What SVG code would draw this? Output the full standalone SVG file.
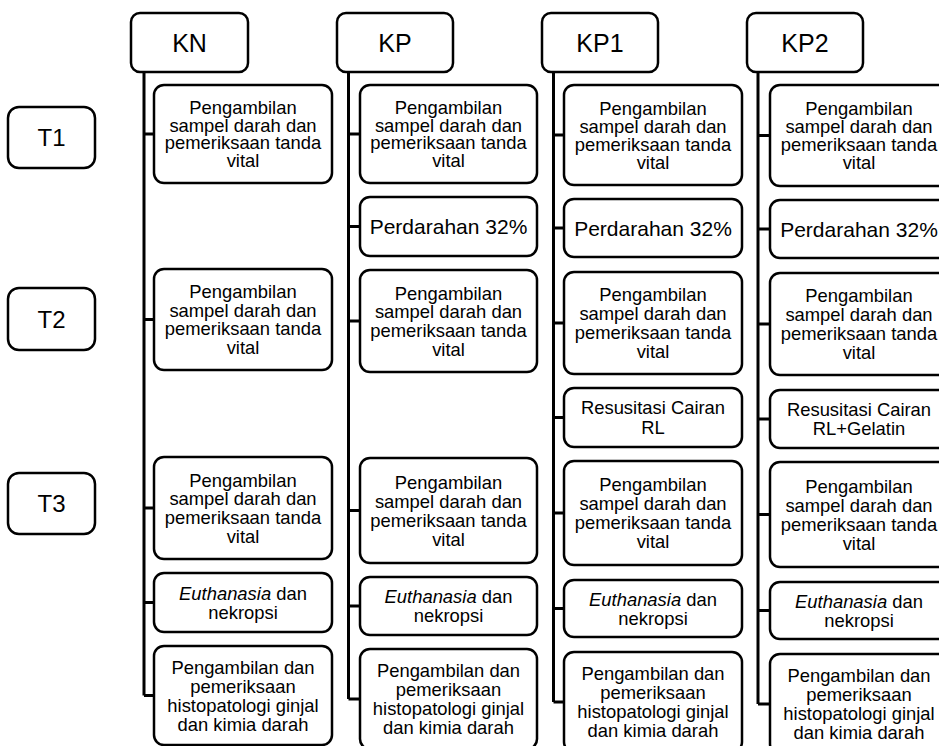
<svg xmlns="http://www.w3.org/2000/svg" width="939" height="746" viewBox="0 0 939 746">
<style>
.bx{fill:#fff;stroke:#000;stroke-width:2.5}
.hd{font-family:"Liberation Sans",Arial,sans-serif;font-size:25px;text-anchor:middle;fill:#000}
.tl{font-family:"Liberation Sans",Arial,sans-serif;font-size:24px;text-anchor:middle;fill:#000}
.tx{font-family:"Liberation Sans",Arial,sans-serif;font-size:18.4px;text-anchor:middle;fill:#000}
.pd{font-family:"Liberation Sans",Arial,sans-serif;font-size:21px;text-anchor:middle;fill:#000}
.it{font-style:italic}
.cn{fill:none;stroke:#000;stroke-width:3}
</style>
<rect width="939" height="746" fill="#fff"/>
<g id="connectors">
<path class="cn" d="M144,72V695.5M144,134H154M144,319.5H154M144,508H154M144,602.5H154M144,695.5H154"/>
<path class="cn" d="M348.5,72V699M348.5,134H360M348.5,226.5H360M348.5,321H360M348.5,510.5H360M348.5,606H360M348.5,699H360"/>
<path class="cn" d="M553.5,72V702M553.5,135H564M553.5,228H564M553.5,323H564M553.5,417.5H564M553.5,513H564M553.5,608.5H564M553.5,702H564"/>
<path class="cn" d="M758,72V704M758,135.5H770M758,229H770M758,324H770M758,419H770M758,514.5H770M758,610.5H770M758,704H770"/>
</g>
<g id="T1"><rect class="bx" x="8" y="107" width="87" height="61" rx="11"/><text class="tl" x="51.5" y="146">T1</text></g>
<g id="T2"><rect class="bx" x="8" y="288" width="87" height="62" rx="11"/><text class="tl" x="51.5" y="327.5">T2</text></g>
<g id="T3"><rect class="bx" x="8" y="473" width="87" height="61" rx="11"/><text class="tl" x="51.5" y="512">T3</text></g>

<g id="KN"><rect class="bx" x="131" y="13" width="117" height="59" rx="9"/><text class="hd" x="189.5" y="51.5">KN</text></g>
<g id="KN-1"><rect class="bx" x="154" y="85" width="178" height="98" rx="10"/><text class="tx"><tspan x="243" y="114">Pengambilan</tspan><tspan x="243" dy="17.7">sampel darah dan</tspan><tspan x="243" dy="17.7">pemeriksaan tanda</tspan><tspan x="243" dy="17.7">vital</tspan></text></g>
<g id="KN-2"><rect class="bx" x="154" y="269" width="178" height="101" rx="10"/><text class="tx"><tspan x="243" y="298.4">Pengambilan</tspan><tspan x="243" dy="18.5">sampel darah dan</tspan><tspan x="243" dy="18.5">pemeriksaan tanda</tspan><tspan x="243" dy="18.5">vital</tspan></text></g>
<g id="KN-3"><rect class="bx" x="154" y="457" width="178" height="102" rx="10"/><text class="tx"><tspan x="243" y="486.6">Pengambilan</tspan><tspan x="243" dy="18.7">sampel darah dan</tspan><tspan x="243" dy="18.7">pemeriksaan tanda</tspan><tspan x="243" dy="18.7">vital</tspan></text></g>
<g id="KN-4"><rect class="bx" x="154" y="573" width="178" height="59" rx="10"/><text class="tx"><tspan x="243" y="599.6"><tspan class="it">Euthanasia</tspan> dan</tspan><tspan x="243" dy="19">nekropsi</tspan></text></g>
<g id="KN-5"><rect class="bx" x="154" y="646" width="178" height="99" rx="10"/><text class="tx"><tspan x="243" y="673.6">Pengambilan dan</tspan><tspan x="243" dy="19">pemeriksaan</tspan><tspan x="243" dy="19">histopatologi ginjal</tspan><tspan x="243" dy="19">dan kimia darah</tspan></text></g>

<g id="KP"><rect class="bx" x="337" y="13" width="116" height="59" rx="9"/><text class="hd" x="395" y="51.5">KP</text></g>
<g id="KP-1"><rect class="bx" x="360" y="85" width="177" height="98" rx="10"/><text class="tx"><tspan x="448.5" y="114">Pengambilan</tspan><tspan x="448.5" dy="17.7">sampel darah dan</tspan><tspan x="448.5" dy="17.7">pemeriksaan tanda</tspan><tspan x="448.5" dy="17.7">vital</tspan></text></g>
<g id="KP-2"><rect class="bx" x="360" y="197" width="177" height="59" rx="10"/><text class="pd" x="448.5" y="234">Perdarahan 32%</text></g>
<g id="KP-3"><rect class="bx" x="360" y="270" width="177" height="102" rx="10"/><text class="tx"><tspan x="448.5" y="299.6">Pengambilan</tspan><tspan x="448.5" dy="18.7">sampel darah dan</tspan><tspan x="448.5" dy="18.7">pemeriksaan tanda</tspan><tspan x="448.5" dy="18.7">vital</tspan></text></g>
<g id="KP-4"><rect class="bx" x="360" y="458" width="177" height="105" rx="10"/><text class="tx"><tspan x="448.5" y="488.6">Pengambilan</tspan><tspan x="448.5" dy="19">sampel darah dan</tspan><tspan x="448.5" dy="19">pemeriksaan tanda</tspan><tspan x="448.5" dy="19">vital</tspan></text></g>
<g id="KP-5"><rect class="bx" x="360" y="577" width="177" height="58" rx="10"/><text class="tx"><tspan x="448.5" y="603.1"><tspan class="it">Euthanasia</tspan> dan</tspan><tspan x="448.5" dy="19">nekropsi</tspan></text></g>
<g id="KP-6"><rect class="bx" x="360" y="649" width="177" height="100" rx="10"/><text class="tx"><tspan x="448.5" y="677.1">Pengambilan dan</tspan><tspan x="448.5" dy="19">pemeriksaan</tspan><tspan x="448.5" dy="19">histopatologi ginjal</tspan><tspan x="448.5" dy="19">dan kimia darah</tspan></text></g>

<g id="KP1"><rect class="bx" x="542" y="13" width="116" height="59" rx="9"/><text class="hd" x="600" y="51.5">KP1</text></g>
<g id="KP1-1"><rect class="bx" x="564" y="85" width="178" height="100" rx="10"/><text class="tx"><tspan x="653" y="114.6">Pengambilan</tspan><tspan x="653" dy="18">sampel darah dan</tspan><tspan x="653" dy="18">pemeriksaan tanda</tspan><tspan x="653" dy="18">vital</tspan></text></g>
<g id="KP1-2"><rect class="bx" x="564" y="199" width="178" height="58" rx="10"/><text class="pd" x="653" y="235.5">Perdarahan 32%</text></g>
<g id="KP1-3"><rect class="bx" x="564" y="272" width="178" height="102" rx="10"/><text class="tx"><tspan x="653" y="301.1">Pengambilan</tspan><tspan x="653" dy="19">sampel darah dan</tspan><tspan x="653" dy="19">pemeriksaan tanda</tspan><tspan x="653" dy="19">vital</tspan></text></g>
<g id="KP1-4"><rect class="bx" x="564" y="388" width="178" height="59" rx="10"/><text class="tx"><tspan x="653" y="414.4">Resusitasi Cairan</tspan><tspan x="653" dy="19.3">RL</tspan></text></g>
<g id="KP1-5"><rect class="bx" x="564" y="461" width="178" height="104" rx="10"/><text class="tx"><tspan x="653" y="491.1">Pengambilan</tspan><tspan x="653" dy="19">sampel darah dan</tspan><tspan x="653" dy="19">pemeriksaan tanda</tspan><tspan x="653" dy="19">vital</tspan></text></g>
<g id="KP1-6"><rect class="bx" x="564" y="580" width="178" height="57" rx="10"/><text class="tx"><tspan x="653" y="605.6"><tspan class="it">Euthanasia</tspan> dan</tspan><tspan x="653" dy="19">nekropsi</tspan></text></g>
<g id="KP1-7"><rect class="bx" x="564" y="652" width="178" height="100" rx="10"/><text class="tx"><tspan x="653" y="680.1">Pengambilan dan</tspan><tspan x="653" dy="19">pemeriksaan</tspan><tspan x="653" dy="19">histopatologi ginjal</tspan><tspan x="653" dy="19">dan kimia darah</tspan></text></g>

<g id="KP2"><rect class="bx" x="747" y="13" width="116" height="59" rx="9"/><text class="hd" x="805" y="51.5">KP2</text></g>
<g id="KP2-1"><rect class="bx" x="770" y="85" width="178" height="101" rx="10"/><text class="tx"><tspan x="859" y="115.1">Pengambilan</tspan><tspan x="859" dy="18">sampel darah dan</tspan><tspan x="859" dy="18">pemeriksaan tanda</tspan><tspan x="859" dy="18">vital</tspan></text></g>
<g id="KP2-2"><rect class="bx" x="770" y="200" width="178" height="58" rx="10"/><text class="pd" x="859" y="236.5">Perdarahan 32%</text></g>
<g id="KP2-3"><rect class="bx" x="770" y="273" width="178" height="102" rx="10"/><text class="tx"><tspan x="859" y="302.1">Pengambilan</tspan><tspan x="859" dy="19">sampel darah dan</tspan><tspan x="859" dy="19">pemeriksaan tanda</tspan><tspan x="859" dy="19">vital</tspan></text></g>
<g id="KP2-4"><rect class="bx" x="770" y="390" width="178" height="58" rx="10"/><text class="tx"><tspan x="859" y="416">Resusitasi Cairan</tspan><tspan x="859" dy="19.3">RL+Gelatin</tspan></text></g>
<g id="KP2-5"><rect class="bx" x="770" y="462" width="178" height="105" rx="10"/><text class="tx"><tspan x="859" y="492.6">Pengambilan</tspan><tspan x="859" dy="19">sampel darah dan</tspan><tspan x="859" dy="19">pemeriksaan tanda</tspan><tspan x="859" dy="19">vital</tspan></text></g>
<g id="KP2-6"><rect class="bx" x="770" y="582" width="178" height="57" rx="10"/><text class="tx"><tspan x="859" y="607.6"><tspan class="it">Euthanasia</tspan> dan</tspan><tspan x="859" dy="19">nekropsi</tspan></text></g>
<g id="KP2-7"><rect class="bx" x="770" y="654" width="178" height="100" rx="10"/><text class="tx"><tspan x="859" y="682.1">Pengambilan dan</tspan><tspan x="859" dy="19">pemeriksaan</tspan><tspan x="859" dy="19">histopatologi ginjal</tspan><tspan x="859" dy="19">dan kimia darah</tspan></text></g>
</svg>
